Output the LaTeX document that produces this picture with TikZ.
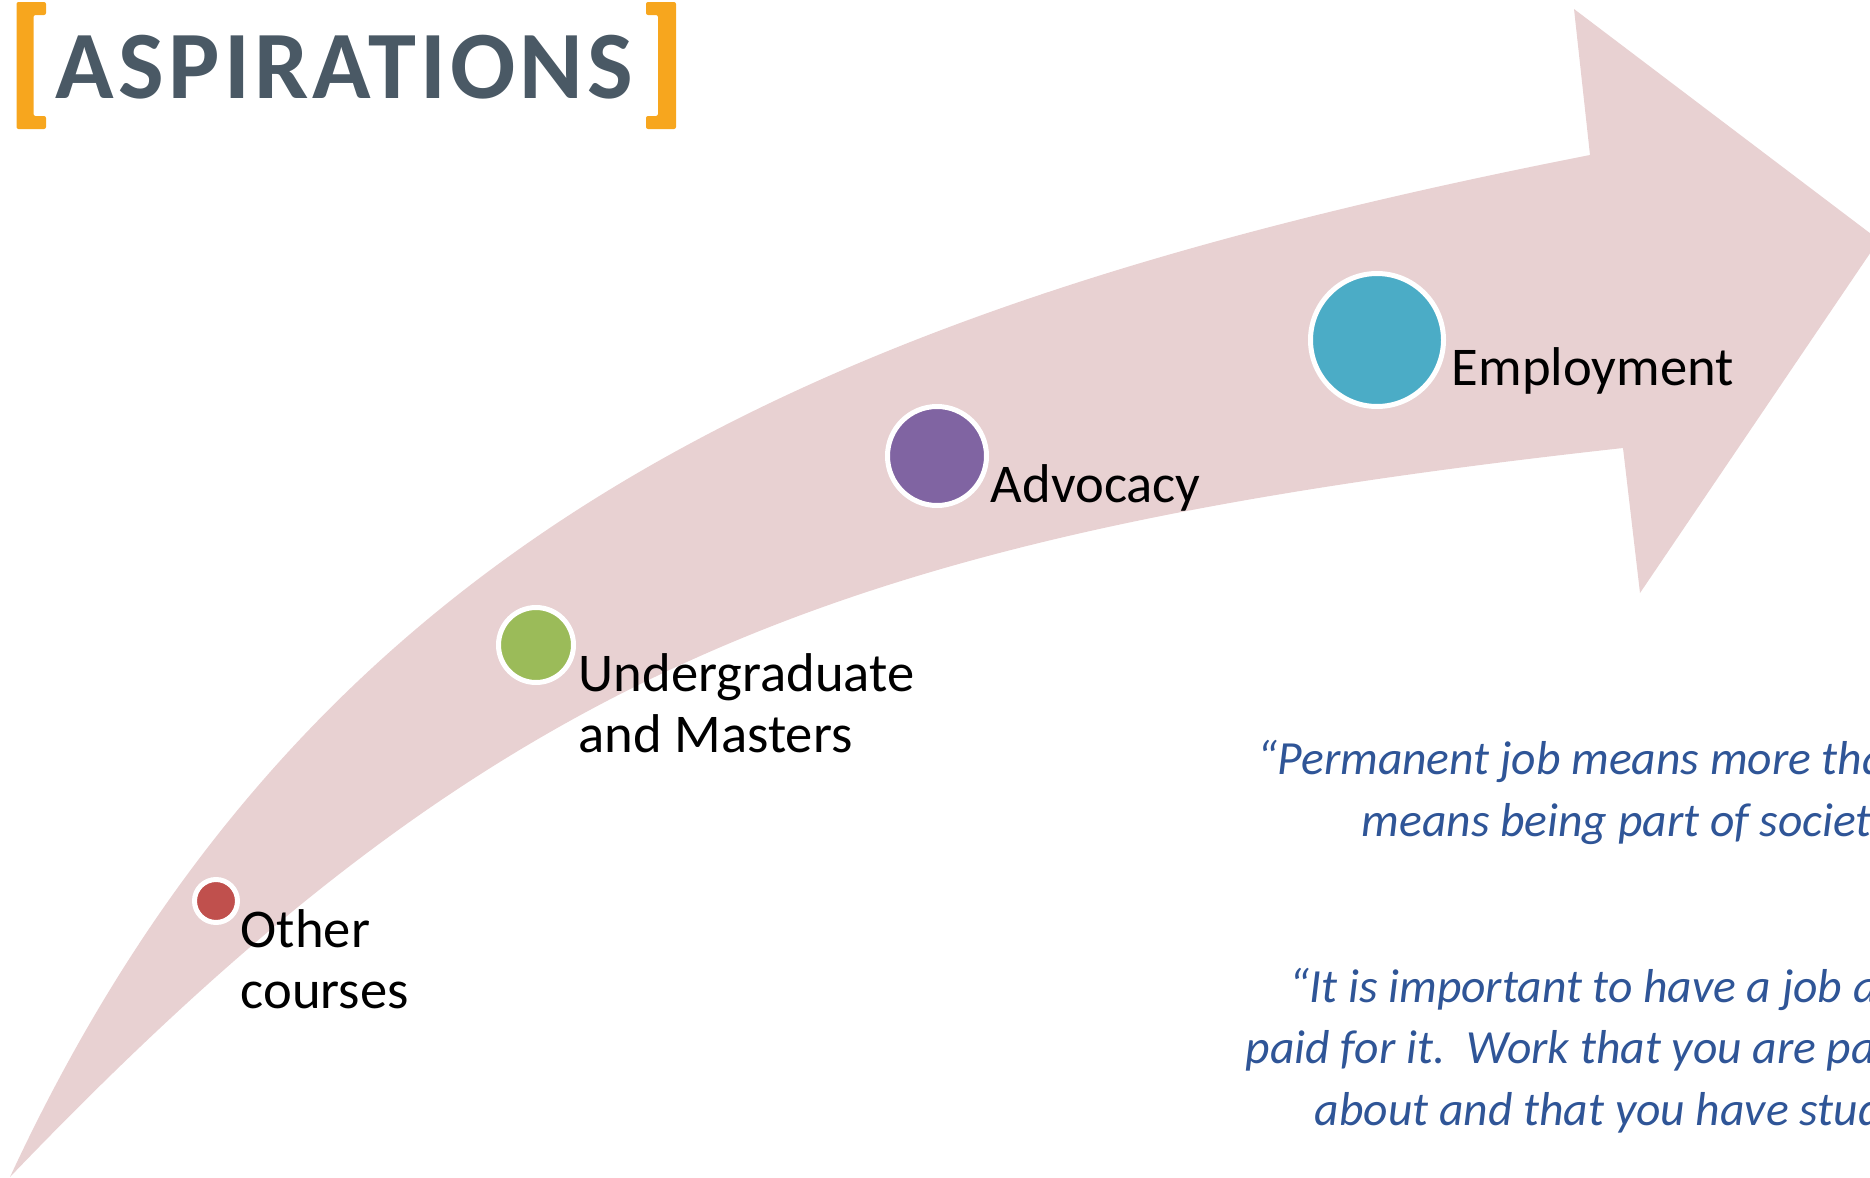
\documentclass[tikz,border=0pt]{standalone}
\usepackage{fontspec}
\setmainfont{Carlito}
\newfontfamily\titlefont{Carlito}[LetterSpace=4.4]
\usepackage{tikz}
\definecolor{arrowpink}{RGB}{232,209,210}
\definecolor{titlegrey}{RGB}{74,89,101}
\definecolor{bracketorange}{RGB}{247,166,30}
\definecolor{dotred}{RGB}{192,80,77}
\definecolor{dotgreen}{RGB}{155,187,89}
\definecolor{dotpurple}{RGB}{128,100,162}
\definecolor{dotteal}{RGB}{75,172,198}
\definecolor{quoteblue}{RGB}{47,85,151}
\tikzset{every picture/.style={line width=0.75pt}}
\tikzset{
  stepdot/.style={circle, draw=white, line width=2.5pt, inner sep=0pt},
  steplabel/.style={anchor=base west, inner sep=0pt, align=left, font=\fontsize{27.3}{30.5}\selectfont},
  quoteline/.style={anchor=base west, inner sep=0pt, text=quoteblue, font=\fontsize{23.8}{31}\selectfont\itshape}
}

\begin{document}
\begin{tikzpicture}[x=0.5pt,y=0.5pt,yscale=-1,xscale=1]
\useasboundingbox (0,0) rectangle (1870,1178);
\clip (0,0) rectangle (1870,1178);

%Shape: Curved Arrow
\fill [arrowpink] (10,1177) .. controls (305,542) and (805,309) .. (1590,155) -- (1574,9) -- (1879,240) -- (1640,593) -- (1623,448) .. controls (828,536) and (494,672) .. (10,1177) -- cycle ;

%Shape: Bracket left
\fill [bracketorange, rounded corners=1] (16.5,2) -- (46,2) -- (46,15) -- (33.5,15) -- (33.5,116) -- (46,116) -- (46,129) -- (16.5,129) -- cycle ;
%Shape: Bracket right
\fill [bracketorange, rounded corners=1] (676,2) -- (646,2) -- (646,15) -- (658,15) -- (658,116) -- (646,116) -- (646,129) -- (676,129) -- cycle ;

% Text Node
\draw (55,98) node [anchor=base west, inner sep=0pt, text=titlegrey, font=\titlefont\fontsize{48.3}{50}\selectfont\bfseries] (title) {ASPIRATIONS};

%Shape: Circles
\node [stepdot, fill=dotred, minimum size=21.5pt] (other) at (216,901) {};
\node [stepdot, fill=dotgreen, minimum size=37.5pt] (degree) at (536,645) {};
\node [stepdot, fill=dotpurple, minimum size=49.5pt] (advocacy) at (937,456) {};
\node [stepdot, fill=dotteal, minimum size=66.5pt] (employment) at (1377,340) {};

% Text Node
\draw (240,1008) node [steplabel] (otherlbl) {Other\\courses};
% Text Node
\draw (578,752) node [steplabel] (degreelbl) {Undergraduate\\and Masters};
% Text Node
\draw (990,502) node [steplabel] (advocacylbl) {Advocacy};
% Text Node
\draw (1451,385) node [steplabel] (employmentlbl) {Employment};

% Text Node
\draw (1257,774) node [quoteline] (quoteAa) {“Permanent job means more tha};
\draw (1361,836) node [quoteline] (quoteAb) {means being part of society};
% Text Node
\draw (1289,1002) node [quoteline] (quoteBa) {“It is important to have a job a};
\draw (1245,1063) node [quoteline] (quoteBb) {paid for it.\ \ Work that you are pa};
\draw (1314,1125) node [quoteline] (quoteBc) {about and that you have stud};

\end{tikzpicture}
\end{document}
